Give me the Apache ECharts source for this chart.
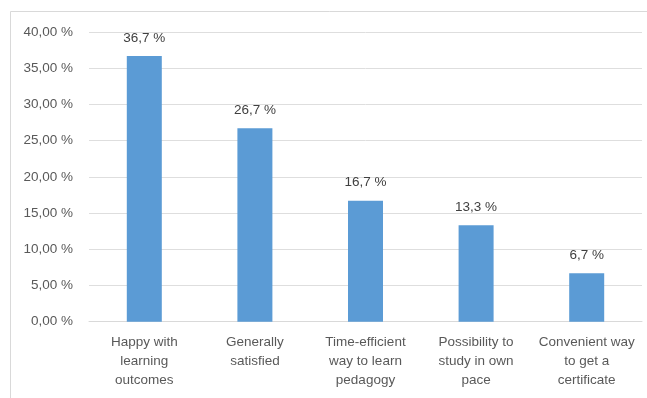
<!DOCTYPE html>
<html><head><meta charset="utf-8">
<script src="https://cdn.jsdelivr.net/npm/echarts@6/dist/echarts.min.js"></script>
<style>html,body{margin:0;padding:0;background:#fff}#c{width:647px;height:398px}</style>
</head><body><div id="c"></div>
<script>
const categories = ["Happy with\nlearning\noutcomes","Generally\nsatisfied","Time-efficient\nway to learn\npedagogy","Possibility to\nstudy in own\npace","Convenient way\nto get a\ncertificate"];
const values = [36.7, 26.7, 16.7, 13.3, 6.7];
const yTicks = [0,5,10,15,20,25,30,35,40];
const fmt = (v, d) => v.toFixed(d).replace('.', ',') + ' %';
const chart = echarts.init(document.getElementById('c'), null, {renderer:'canvas'});
const font = 'Liberation Sans';
chart.setOption({
  animation:false,
  backgroundColor:'#fff',
  graphic:[{type:'rect',shape:{x:10.5,y:11.5,width:700,height:500},style:{fill:'none',stroke:'#d9d9d9',lineWidth:1},silent:true,z:-1}],
  grid:{left:89,right:5,top:32,bottom:76.3,containLabel:false},
  xAxis:{type:'category',data:categories,axisTick:{show:false},
    axisLine:{lineStyle:{color:'#d9d9d9'}},
    axisLabel:{color:'#595959',fontFamily:font,fontSize:13.5,lineHeight:19,margin:11,interval:0}},
  yAxis:{type:'value',min:yTicks[0],max:yTicks[yTicks.length-1],interval:5,
    axisLine:{show:false},axisTick:{show:false},
    splitLine:{lineStyle:{color:'#dedede'}},
    axisLabel:{color:'#595959',fontFamily:font,fontSize:13.5,margin:16,formatter:v=>fmt(v,2)}},
  series:[{type:'bar',data:values,barWidth:35,itemStyle:{color:'#5b9bd5'},
    label:{show:true,position:'top',distance:11,color:'#404040',fontFamily:font,fontSize:13.5,formatter:p=>fmt(p.value,1)}}]
});
</script></body></html>
